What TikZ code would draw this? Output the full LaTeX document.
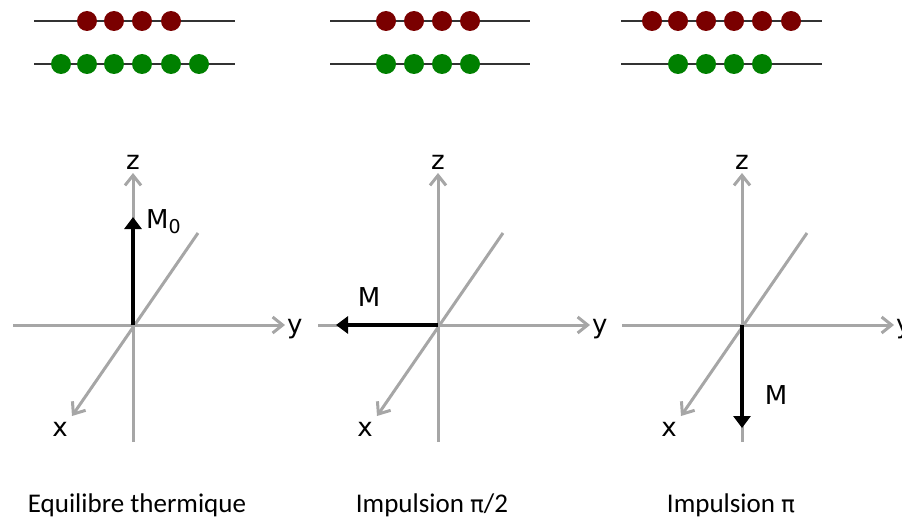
\documentclass[tikz,border=0pt]{standalone}
\usepackage{fontspec}
\setmainfont{Carlito}
\newfontfamily\axisfont{DejaVu Sans}
\usetikzlibrary{arrows.meta}
\definecolor{axisgrey}{RGB}{166,166,166}
\definecolor{beadred}{RGB}{122,0,0}
\definecolor{beadgreen}{RGB}{0,128,0}
\definecolor{wiregrey}{RGB}{51,51,51}
\newcommand{\uppi}{{\axisfont\fontsize{23}{28}\selectfont π}}
\tikzset{
  axis/.style={axisgrey,line width=3pt,-{Straight Barb[length=10pt,width=16pt]}},
  magn/.style={black,line width=4pt,-{Triangle[length=12pt,width=17pt]}},
  wire/.style={wiregrey,line width=2pt},
  redbead/.style={fill=beadred},
  greenbead/.style={fill=beadgreen},
  lbl/.style={font=\axisfont\fontsize{26}{30}\selectfont,inner sep=0pt},
  caption/.style={font=\fontsize{27}{32}\selectfont,inner sep=0pt},
}
\begin{document}
\begin{tikzpicture}[x=1pt,y=-1pt]
\useasboundingbox (0,0) rectangle (902,519);
% populations (upper level red, lower level green)
\draw[wire] (34,21)--(235,21) (34,64)--(235,64);
\draw[wire] (330,21)--(530,21) (330,64)--(530,64);
\draw[wire] (621,21)--(822,21) (621,64)--(822,64);
\foreach \x in {87,114,142,171} \fill[redbead] (\x,21) circle (10);
\foreach \x in {61,87,114,142,171,199} \fill[greenbead] (\x,64) circle (10);
\foreach \x in {386,414,442,470} \fill[redbead] (\x,21) circle (10);
\foreach \x in {386,414,442,470} \fill[greenbead] (\x,64) circle (10);
\foreach \x in {652,678,706,734,762,791} \fill[redbead] (\x,21) circle (10);
\foreach \x in {678,706,734,762} \fill[greenbead] (\x,64) circle (10);
% axes
\foreach \i/\ox in {1/133,2/438,3/742}{
  \coordinate (o\i) at (\ox,325);
  \draw[axis] ([shift={(65,-92)}]o\i) -- ([shift={(-61,91)}]o\i);
  \draw[axis] ([shift={(0,117)}]o\i) -- ([shift={(0,-152)}]o\i);
  \draw[axis] ([shift={(-120,0)}]o\i) -- ([shift={(152,0)}]o\i);
  \node[lbl] (z\i) at ([shift={(0,-163)}]o\i) {z};
  \node[lbl,anchor=west] (y\i) at ([shift={(154,4)}]o\i) {y};
  \node[lbl] (x\i) at ([shift={(-73,104)}]o\i) {x};
}
% magnetisation
\coordinate (m1) at (133,217);
\coordinate (m2) at (336,325);
\coordinate (m3) at (742,428);
\draw[magn] (o1) -- (m1);
\draw[magn] (o2) -- (m2);
\draw[magn] (o3) -- (m3);
\node[lbl,anchor=west] (lm1) at (146,222) {M\raisebox{-5pt}{\fontsize{19}{19}\selectfont 0}};
\node[lbl] (lm2) at (369,297) {M};
\node[lbl] (lm3) at (776,395) {M};
\node[caption] (c1) at (137,505) {Equilibre thermique};
\node[caption] (c2) at (432,505) {Impulsion \uppi/2};
\node[caption] (c3) at (731,505) {Impulsion \uppi};
\end{tikzpicture}
\end{document}
